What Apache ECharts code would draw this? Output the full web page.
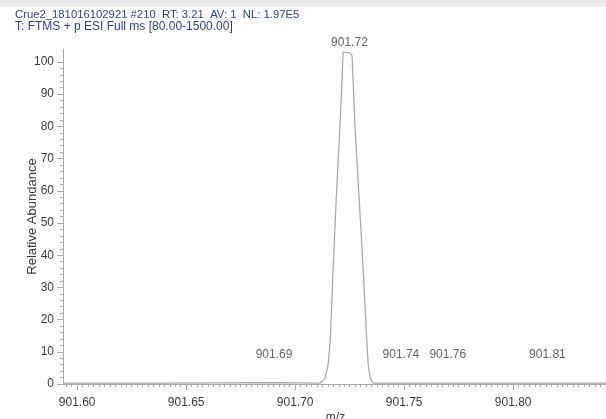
<!DOCTYPE html>
<html>
<head>
<meta charset="utf-8">
<script src="https://cdn.jsdelivr.net/npm/echarts@6/dist/echarts.min.js"></script>
<style>
html,body{margin:0;padding:0;background:#fff;}
#chart{width:606px;height:419px;}
</style>
</head>
<body>
<div id="chart"></div>
<script>
// Header text
var headerLine1 = "Crue2_181016102921 #210  RT: 3.21  AV: 1  NL: 1.97E5";
var headerLine2 = "T: FTMS + p ESI Full ms [80.00-1500.00]";

// Profile spectrum: m/z values and relative abundance
var mzValues = [901.5936, 901.6400, 901.6900, 901.7115, 901.7138, 901.7151, 901.7161, 901.7174, 901.7188, 901.7202, 901.7211, 901.7220, 901.7252, 901.7261, 901.7275, 901.7294, 901.7312, 901.7326, 901.7335, 901.7344, 901.7358, 901.7600, 901.8100, 901.8435];
var abundance = [0.3, 0.3, 0.4, 0.3, 1.9, 5.9, 13.7, 35.4, 57.1, 75.8, 88.2, 103.1, 102.8, 101.9, 78.9, 57.1, 35.4, 16.8, 5.9, 1.9, 0.3, 0.3, 0.3, 0.3];

// Peak annotations (position along m/z, height, text)
var peakLabelMz = [901.7249, 901.6903, 901.7485, 901.7700, 901.8157];
var peakLabelY = [103.1, 0.3, 0.3, 0.3, 0.3];
var peakLabelText = ["901.72", "901.69", "901.74", "901.76", "901.81"];

// Axis ticks
var xTickValues = [901.60, 901.65, 901.70, 901.75, 901.80];
var yTickValues = [0, 10, 20, 30, 40, 50, 60, 70, 80, 90, 100];
var xMin = 901.5935, xMax = 901.8435;

var xMinor = [];
for (var i = 0; i <= 100; i++) { var v = 901.5950 + i * 0.0025; if (v <= xMax) xMinor.push(+v.toFixed(4)); }
var yMinor = [];
for (var j = 0; j <= 50; j++) { yMinor.push(j * 2); }

var lineData = mzValues.map(function (m, k) { return [m, abundance[k]]; });
var labelData = peakLabelMz.map(function (m, k) {
  return {
    value: [m, peakLabelY[k]],
    label: { distance: k === 0 ? 3 : 22, formatter: peakLabelText[k] }
  };
});

var axisColor = '#a8a8a8';
var textColor = '#3a3a3a';
var font = 'Arial, "Liberation Sans", sans-serif';

var chart = echarts.init(document.getElementById('chart'), null, { renderer: 'canvas' });
chart.setOption({
  animation: false,
  backgroundColor: '#ffffff',
  graphic: [
    { type: 'rect', left: 0, top: 0, shape: { width: 606, height: 7 }, style: { fill: '#ececec' }, z: 0 },
    { type: 'text', left: 15, top: 9, style: { text: headerLine1, fill: '#2e3f8f', font: '11.3px ' + font } },
    { type: 'text', left: 15, top: 21, style: { text: headerLine2, fill: '#2e3f8f', font: '12px ' + font } }
  ],
  grid: { left: 63, top: 49.1, width: 545, height: 334.9, containLabel: false, outerBoundsMode: 'none' },
  xAxis: [
    {
      type: 'value', min: xMin, max: xMax,
      name: 'm/z', nameLocation: 'middle', nameGap: 28, nameMoveOverlap: false,
      nameTextStyle: { color: textColor, fontSize: 12, fontFamily: font },
      axisLine: { show: true, lineStyle: { color: axisColor, width: 1 } },
      axisTick: { show: true, customValues: xTickValues, length: 6, lineStyle: { color: axisColor } },
      axisLabel: { show: true, customValues: xTickValues, margin: 13, color: textColor, fontSize: 12, fontFamily: font,
        formatter: function (v) { return v.toFixed(2); } },
      splitLine: { show: false }
    },
    {
      type: 'value', min: xMin, max: xMax, position: 'bottom',
      axisLine: { show: false },
      axisTick: { show: true, customValues: xMinor, length: 3, lineStyle: { color: axisColor } },
      axisLabel: { show: false },
      splitLine: { show: false }
    }
  ],
  yAxis: [
    {
      type: 'value', min: 0, max: 104,
      name: 'Relative Abundance', nameLocation: 'middle', nameGap: 24, nameRotate: 90, nameMoveOverlap: false,
      nameTextStyle: { color: textColor, fontSize: 13, fontFamily: font },
      axisLine: { show: true, lineStyle: { color: axisColor, width: 1 } },
      axisTick: { show: true, customValues: yTickValues, length: 6, lineStyle: { color: axisColor } },
      axisLabel: { show: true, customValues: yTickValues, margin: 9, color: textColor, fontSize: 12, fontFamily: font },
      splitLine: { show: false }
    },
    {
      type: 'value', min: 0, max: 104, position: 'left',
      axisLine: { show: false },
      axisTick: { show: true, customValues: yMinor, length: 3, lineStyle: { color: axisColor } },
      axisLabel: { show: false },
      splitLine: { show: false }
    }
  ],
  series: [
    {
      type: 'line', xAxisIndex: 0, yAxisIndex: 0, data: lineData,
      showSymbol: false, symbol: 'none', clip: false,
      lineStyle: { color: '#a6a6a6', width: 1.2 }
    },
    {
      type: 'scatter', xAxisIndex: 0, yAxisIndex: 0, data: labelData,
      symbolSize: 0, clip: false, silent: true,
      label: { show: true, position: 'top', color: textColor, fontSize: 12, fontFamily: font }
    }
  ]
});
</script>
</body>
</html>
